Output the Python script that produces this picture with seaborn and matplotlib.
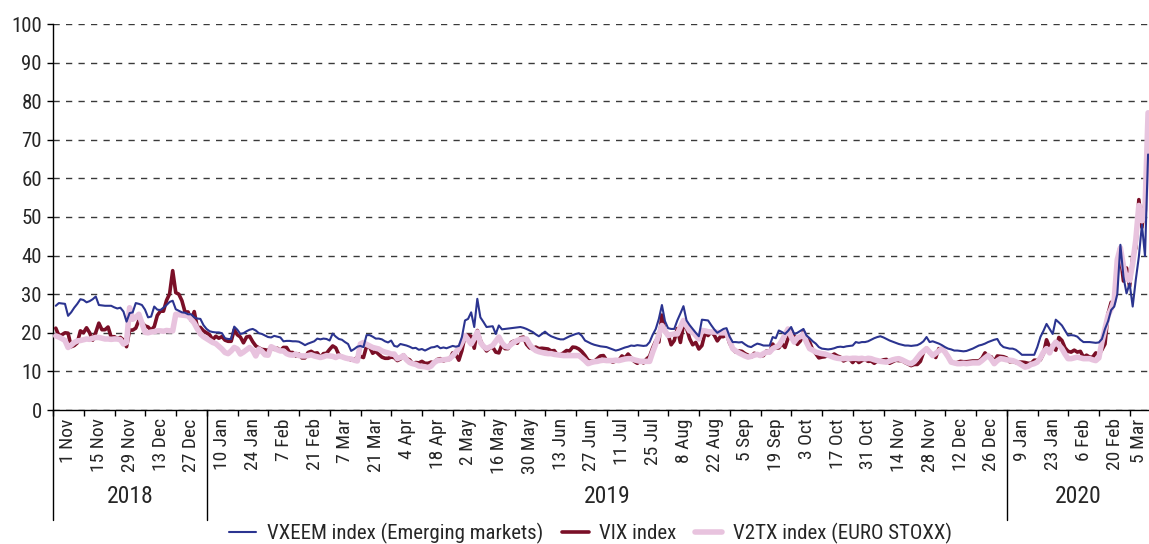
import numpy as np
import pandas as pd
import matplotlib
matplotlib.use("Agg")
import matplotlib.pyplot as plt
from matplotlib.lines import Line2D
from matplotlib import font_manager
import seaborn as sns

# daily values, one row = 10 business days (one label slot)
vxeem = [
    27.0, 27.7, 27.6, 27.5, 24.4, 25.3, 26.5, 27.5, 28.7, 28.5,
    27.9, 28.2, 28.7, 29.4, 27.2, 27.1, 27.0, 27.0, 27.0, 26.6,
    26.3, 26.5, 25.5, 22.9, 25.1, 25.3, 27.7, 27.5, 27.2, 26.0,
    24.0, 24.2, 26.8, 26.0, 25.9, 26.5, 27.2, 28.0, 28.3, 26.1,
    25.7, 25.3, 25.2, 24.8, 24.8, 24.0, 23.7, 23.6, 22.0, 21.0,
    20.4, 20.2, 20.1, 20.1, 19.9, 18.6, 18.4, 18.4, 21.6, 20.8,
    19.7, 19.9, 20.4, 20.8, 21.0, 20.6, 19.9, 19.7, 19.3, 18.9,
    18.8, 19.2, 19.0, 18.8, 17.8, 17.9, 17.9, 17.8, 17.8, 17.7,
    17.3, 16.8, 17.2, 17.5, 17.8, 18.5, 18.3, 18.5, 18.4, 18.0,
    19.8, 19.0, 18.4, 18.2, 17.6, 17.1, 15.3, 15.8, 16.4, 16.6,
    16.3, 19.4, 19.4, 19.0, 18.5, 18.5, 18.3, 17.8, 17.5, 18.0,
    16.6, 16.4, 17.1, 16.9, 16.7, 16.4, 16.0, 16.1, 15.6, 15.8,
    15.4, 15.8, 16.2, 16.3, 16.6, 16.0, 16.2, 16.0, 16.3, 16.6,
    16.4, 16.6, 18.9, 23.2, 23.6, 25.3, 21.5, 28.8, 24.0, 22.8,
    21.5, 21.6, 21.7, 19.7, 21.9, 20.9, 21.0, 21.1, 21.2, 21.3,
    21.4, 21.5, 21.3, 21.0, 20.6, 20.2, 19.6, 19.1, 19.7, 20.3,
    19.6, 19.1, 18.8, 18.5, 18.3, 18.3, 18.7, 19.1, 19.4, 19.7,
    19.9, 19.2, 18.0, 17.6, 17.2, 16.9, 16.7, 16.5, 16.4, 16.3,
    16.0, 15.7, 15.4, 15.6, 15.9, 16.2, 16.4, 16.7, 16.6, 16.8,
    16.7, 16.6, 16.7, 17.6, 19.5, 21.0, 23.6, 27.2, 23.0, 21.2,
    21.0, 21.0, 23.2, 25.0, 26.9, 23.2, 22.0, 21.0, 20.0, 19.1,
    23.4, 23.3, 23.2, 22.0, 20.9, 20.0, 20.5, 21.0, 21.2, 19.0,
    17.6, 17.6, 17.5, 17.6, 17.0, 16.5, 16.3, 16.8, 17.2, 17.0,
    16.7, 16.7, 16.7, 18.9, 18.6, 20.6, 20.2, 19.7, 20.5, 21.5,
    19.7, 20.0, 20.5, 21.0, 19.3, 18.6, 17.8, 17.2, 16.3, 15.9,
    15.8, 15.7, 15.8, 16.0, 16.3, 16.4, 16.3, 16.5, 16.6, 16.7,
    17.6, 17.4, 17.6, 17.6, 17.8, 18.2, 18.6, 18.9, 19.1, 18.8,
    18.4, 18.0, 17.7, 17.4, 17.1, 16.9, 16.7, 16.7, 16.6, 16.7,
    16.8, 17.2, 17.8, 18.9, 17.6, 17.8, 17.5, 17.2, 16.8, 16.3,
    15.9, 15.7, 15.4, 15.4, 15.3, 15.2, 15.3, 15.6, 15.9, 16.3,
    16.7, 16.9, 17.2, 17.6, 17.9, 18.2, 18.4, 17.0, 16.3, 16.1,
    15.9, 15.9, 15.6, 15.0, 14.3, 14.3, 14.3, 14.3, 14.3, 16.3,
    18.9, 20.5, 22.3, 21.0, 19.7, 23.4, 22.7, 21.9, 20.6, 19.3,
    19.4, 19.3, 19.0, 18.2, 17.6, 17.6, 17.6, 17.5, 17.4, 17.5,
    18.4, 21.0, 23.0, 25.9, 26.8, 30.0, 42.8, 34.5, 30.2, 32.8,
    26.8, 33.7, 39.7, 48.0, 39.9, 66.2,
]

vix = [
    21.2, 19.3, 19.5, 20.0, 19.9, 16.4, 16.7, 17.4, 20.5, 20.0,
    21.3, 20.0, 18.1, 20.1, 22.5, 20.8, 20.8, 21.5, 18.9, 19.0,
    18.5, 18.8, 18.1, 16.4, 20.7, 20.7, 21.2, 23.2, 22.6, 21.8,
    21.5, 20.7, 21.6, 24.5, 25.6, 25.6, 28.4, 30.1, 36.1, 30.4,
    30.0, 28.3, 25.4, 25.4, 23.2, 25.5, 21.4, 21.4, 20.5, 20.0,
    19.5, 18.2, 19.1, 18.6, 19.0, 18.1, 17.8, 17.8, 20.8, 19.5,
    18.9, 17.4, 18.9, 19.1, 17.7, 16.6, 16.1, 15.7, 15.6, 15.4,
    16.4, 15.7, 16.0, 15.4, 16.2, 16.2, 14.9, 14.9, 14.0, 14.5,
    13.5, 13.5, 14.9, 15.2, 14.7, 14.8, 13.6, 14.6, 14.7, 15.7,
    16.6, 16.1, 14.3, 13.8, 13.4, 13.5, 12.9, 13.1, 13.6, 13.9,
    13.6, 16.5, 16.3, 14.7, 15.2, 14.4, 13.7, 13.4, 13.4, 13.7,
    13.6, 12.8, 13.2, 14.3, 13.3, 13.0, 12.0, 12.3, 12.2, 12.6,
    12.1, 12.1, 12.4, 12.3, 13.1, 13.3, 12.7, 13.1, 13.1, 14.8,
    14.4, 12.9, 15.4, 19.3, 19.4, 19.1, 16.0, 20.6, 18.1, 16.4,
    15.3, 16.0, 16.3, 15.0, 14.8, 16.9, 15.9, 15.9, 17.5, 17.9,
    17.3, 18.7, 18.9, 17.0, 16.1, 15.9, 16.3, 15.9, 16.0, 15.9,
    15.8, 15.3, 15.4, 14.3, 14.3, 14.8, 15.4, 15.3, 16.3, 16.2,
    15.8, 15.1, 14.1, 12.9, 12.6, 12.6, 13.3, 14.0, 14.1, 12.9,
    12.9, 12.4, 12.7, 12.9, 14.0, 13.5, 14.5, 13.5, 12.6, 12.1,
    12.7, 12.2, 13.2, 13.9, 16.1, 17.9, 17.6, 24.6, 20.2, 19.5,
    16.9, 18.0, 21.1, 17.5, 22.1, 21.2, 18.5, 16.9, 17.5, 15.8,
    16.7, 19.9, 19.3, 20.3, 19.4, 17.9, 19.0, 19.0, 19.7, 17.3,
    15.8, 15.0, 15.3, 15.2, 14.6, 14.2, 13.7, 14.7, 14.4, 14.0,
    14.1, 15.3, 14.9, 17.1, 16.0, 16.1, 17.2, 16.2, 18.6, 20.6,
    19.1, 17.0, 17.9, 20.3, 18.6, 17.6, 15.6, 14.6, 13.5, 13.7,
    13.8, 14.3, 14.0, 14.5, 14.0, 13.7, 12.7, 13.1, 13.2, 12.3,
    13.2, 12.3, 12.8, 13.1, 12.6, 12.7, 12.1, 12.7, 12.7, 13.0,
    13.1, 12.1, 12.5, 12.9, 12.8, 12.8, 12.3, 11.9, 11.5, 11.8,
    11.8, 12.6, 14.9, 16.0, 14.8, 14.5, 13.6, 15.9, 15.7, 15.0,
    13.9, 12.6, 12.1, 12.3, 12.6, 12.5, 12.5, 12.6, 12.7, 12.7,
    12.7, 13.4, 14.8, 13.8, 13.8, 12.5, 14.0, 13.9, 13.8, 13.5,
    12.5, 12.6, 12.3, 12.4, 12.4, 12.3, 12.1, 12.1, 12.9, 12.9,
    13.0, 14.6, 18.2, 16.3, 16.4, 15.5, 18.8, 18.0, 16.1, 15.2,
    15.0, 15.5, 15.0, 15.2, 13.7, 14.2, 13.7, 13.7, 14.8, 14.4,
    15.6, 17.1, 25.0, 27.9, 27.6, 39.2, 40.1, 33.4, 36.8, 32.0,
    39.6, 41.9, 54.5, 47.3, 53.9, 75.5,
]

v2tx = [
    19.2, 18.9, 18.5, 18.0, 16.2, 16.8, 17.5, 17.9, 18.0, 18.2,
    18.4, 18.3, 18.6, 18.8, 18.8, 18.6, 18.4, 18.4, 18.3, 18.4,
    18.4, 18.2, 17.1, 17.5, 26.5, 23.5, 24.0, 24.8, 22.5, 20.1,
    20.0, 20.2, 20.3, 20.5, 20.5, 20.4, 20.6, 20.5, 20.5, 24.8,
    24.7, 24.6, 24.5, 24.4, 23.5, 22.5, 21.0, 19.7, 19.0, 18.5,
    18.0, 17.5, 17.2, 16.5, 15.8, 14.9, 14.6, 15.3, 16.2, 15.8,
    14.5, 15.0, 15.6, 16.2, 15.5, 14.0, 15.8, 15.2, 14.3, 14.2,
    16.4, 16.0, 15.6, 15.3, 15.3, 14.6, 14.3, 14.2, 14.5, 14.1,
    14.0, 14.0, 14.1, 14.3, 14.0, 13.8, 13.6, 13.8, 14.1, 14.0,
    13.9, 13.6, 14.0, 13.8, 13.5, 13.3, 13.2, 12.9, 12.7, 17.1,
    17.5, 17.0, 16.6, 16.2, 16.0, 15.8, 15.3, 15.0, 14.8, 14.5,
    14.5, 13.3, 13.6, 14.1, 13.0, 12.3, 12.0, 11.8, 11.4, 11.3,
    11.2, 11.0, 11.4, 12.3, 12.8, 12.9, 13.0, 13.1, 13.3, 14.0,
    15.0, 15.9, 17.5, 19.3, 18.2, 17.1, 18.5, 20.2, 17.5, 16.5,
    15.9, 16.3, 16.7, 17.8, 18.9, 17.4, 16.5, 16.3, 17.0, 17.6,
    18.0, 18.3, 18.4, 18.4, 17.0, 16.0, 15.4, 15.1, 14.9, 14.7,
    14.6, 14.6, 14.4, 14.3, 14.2, 14.1, 14.1, 14.1, 14.1, 14.1,
    14.1, 13.5, 12.8, 12.0, 12.3, 12.5, 12.6, 12.8, 12.9, 12.8,
    12.8, 12.8, 12.9, 12.8, 13.0, 13.2, 13.3, 13.3, 13.0, 12.8,
    12.6, 12.6, 12.6, 12.6, 15.0, 17.1, 19.5, 21.9, 20.5, 19.3,
    19.5, 19.7, 19.7, 21.5, 23.2, 21.8, 20.5, 20.2, 19.3, 18.4,
    20.6, 20.5, 20.3, 20.2, 20.2, 20.1, 20.0, 20.0, 20.0, 18.0,
    15.9, 15.3, 14.8, 14.4, 14.0, 13.7, 13.9, 14.2, 14.4, 14.1,
    14.6, 15.0, 15.0, 15.9, 16.3, 16.7, 18.0, 19.5, 21.0, 19.0,
    17.6, 18.7, 19.0, 19.7, 17.5, 15.9, 15.5, 15.0, 14.8, 14.6,
    14.5, 14.2, 13.9, 13.6, 13.4, 13.3, 13.3, 13.4, 13.3, 13.4,
    13.4, 13.3, 13.4, 13.2, 13.4, 13.3, 13.0, 12.8, 12.6, 12.5,
    12.4, 12.7, 13.0, 13.2, 13.3, 13.0, 12.6, 12.2, 12.0, 12.5,
    13.5, 14.5, 15.2, 15.9, 15.0, 14.1, 14.7, 15.3, 15.9, 15.0,
    13.8, 12.4, 12.2, 12.0, 12.0, 12.1, 12.0, 12.1, 12.2, 12.2,
    12.2, 12.8, 13.5, 14.1, 13.2, 12.0, 12.8, 13.3, 13.2, 13.0,
    12.9, 12.8, 12.5, 12.1, 11.6, 11.1, 11.3, 11.8, 12.0, 12.4,
    13.5, 15.0, 15.9, 14.8, 16.5, 17.6, 16.8, 15.9, 14.5, 13.3,
    13.3, 13.5, 13.7, 13.5, 13.3, 13.3, 13.3, 13.0, 12.8, 13.5,
    17.6, 21.0, 24.5, 26.2, 28.6, 39.0, 42.0, 37.3, 34.0, 33.5,
    38.0, 44.0, 53.0, 49.0, 52.0, 77.0,
]

tick_labels = [
    "1 Nov", "15 Nov", "29 Nov", "13 Dec", "27 Dec",
    "10 Jan", "24 Jan", "7 Feb", "21 Feb", "7 Mar", "21 Mar", "4 Apr", "18 Apr",
    "2 May", "16 May", "30 May", "13 Jun", "27 Jun", "11 Jul", "25 Jul", "8 Aug",
    "22 Aug", "5 Sep", "19 Sep", "3 Oct", "17 Oct", "31 Oct", "14 Nov", "28 Nov",
    "12 Dec", "26 Dec",
    "9 Jan", "23 Jan", "6 Feb", "20 Feb", "5 Mar",
]
years = ["2018", "2019", "2020"]

series_names = ["VXEEM index (Emerging markets)", "VIX index", "V2TX index (EURO STOXX)"]
colors = {"VXEEM index (Emerging markets)": "#2b3490",
          "VIX index": "#7a0f27",
          "V2TX index (EURO STOXX)": "#e8c3de"}
widths = {"VXEEM index (Emerging markets)": 1.5,
          "VIX index": 2.6,
          "V2TX index (EURO STOXX)": 4.0}

n = len(vix)
df = pd.DataFrame({"pos": np.arange(n),
                   series_names[0]: vxeem,
                   series_names[1]: vix,
                   series_names[2]: v2tx})
long = df.melt(id_vars="pos", var_name="series", value_name="value")

sns.set_theme(style="white")

# a narrow face if one is installed, otherwise shrink the regular one
installed = {f.name for f in font_manager.fontManager.ttflist}
narrow = [f for f in ["Liberation Sans Narrow", "Roboto Condensed", "Open Sans Condensed"]
          if f in installed]
if narrow:
    plt.rcParams["font.family"] = [narrow[0], "DejaVu Sans"]
    fs = {"y": 15, "x": 14, "year": 17, "legend": 15}
else:
    plt.rcParams["font.family"] = ["Liberation Sans", "DejaVu Sans"]
    fs = {"y": 14, "x": 12.5, "year": 15, "legend": 12.8}

fig = plt.figure(figsize=(11.49, 5.44), dpi=100)
ax = fig.add_axes([53 / 1149, 1 - 410 / 544, 1096 / 1149, 386 / 544])

# draw order: VIX under V2TX, VXEEM on top
for name, z in [(series_names[1], 3), (series_names[2], 4), (series_names[0], 5)]:
    sns.lineplot(data=long[long["series"] == name], x="pos", y="value",
                 color=colors[name], linewidth=widths[name], ax=ax,
                 legend=False, zorder=z, solid_joinstyle="round")

xmax = 355.3
ax.set_xlim(-0.9, xmax)
ax.set_ylim(0, 100)
ax.set_xlabel("")
ax.set_ylabel("")

# y axis
ax.set_yticks(np.arange(0, 101, 10))
ax.tick_params(axis="y", which="major", direction="out", length=4, width=1,
               color="black", labelsize=fs["y"], pad=4, left=True)
ax.yaxis.grid(True, linestyle=(0, (4.5, 4.5)), color="#3a3a3a", linewidth=1.0)
ax.xaxis.grid(False)
for side in ["top", "right"]:
    ax.spines[side].set_visible(False)
for side in ["left", "bottom"]:
    ax.spines[side].set_color("black")
    ax.spines[side].set_linewidth(1.0)

# x axis: tick marks at slot boundaries, labels centred in the visible part of each slot
nslots = len(tick_labels)
bounds = np.arange(nslots) * 10 - 0.9
centres = [(b + min(b + 10, xmax)) / 2 for b in bounds]
ax.set_xticks(bounds)
ax.set_xticklabels([])
ax.tick_params(axis="x", which="major", direction="out", length=4, width=1,
               color="black", bottom=True)
ax.set_xticks(centres, minor=True)
ax.set_xticklabels(tick_labels, minor=True, rotation=90, fontsize=fs["x"])
ax.tick_params(axis="x", which="minor", length=0, pad=6)

# year groups: a new year starts where Dec is followed by Jan
starts = [0] + [i for i in range(1, nslots)
                if tick_labels[i].endswith("Jan") and tick_labels[i - 1].endswith("Dec")]
edges = starts + [nslots]
trans = ax.get_xaxis_transform()
for s in starts:
    ax.plot([s * 10 - 0.9] * 2, [0, -0.285], transform=trans, color="black",
            linewidth=1.0, clip_on=False)
for k, year in enumerate(years):
    left = edges[k] * 10 - 0.9
    right = min(edges[k + 1] * 10 - 0.9, xmax)
    ax.text((left + right) / 2, -0.225, year, transform=trans, ha="center",
            va="center", fontsize=fs["year"])

handles = [Line2D([0], [0], color=colors[nm], linewidth=widths[nm]) for nm in series_names]
fig.legend(handles, series_names, loc="center", bbox_to_anchor=(0.514, 0.02),
           ncol=3, frameon=False, fontsize=fs["legend"], handlelength=1.3,
           handletextpad=0.5, columnspacing=0.9)

fig.savefig("out.png", dpi=100)
